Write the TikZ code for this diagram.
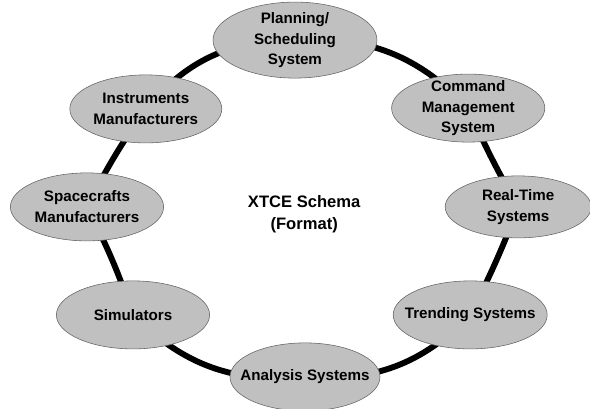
\documentclass[tikz,border=0pt]{standalone}
\usepackage{fontspec}
\setmainfont{Liberation Sans}
\usepackage{tikz}
\usetikzlibrary{shapes,backgrounds}

\definecolor{ovalgray}{RGB}{192,192,192}
\definecolor{ovaledge}{RGB}{100,100,100}

\begin{document}
\begin{tikzpicture}[
    % GLOBAL CFG
    font=\bfseries\fontsize{10.8}{14.9}\selectfont,
    % Styles
    sys/.style={% For the systems round the ring
        ellipse,
        draw=ovaledge,
        fill=ovalgray,
        thin,
        align=center,
        minimum width=3.8cm,
        minimum height=1.7cm,
        inner xsep=-10pt,
        inner ysep=-5pt,
        },
    ring/.style={% For the thick links
        line width=4.2pt,
        },
    ]

    % Fix the page
    \useasboundingbox (-7.375,-5.1125) rectangle (7.375,5.1125);

    % Draw the systems, clockwise from the top
    \node [sys, minimum width=4.1cm, minimum height=1.9cm] (plan) at (0,4.11) {Planning/\\Scheduling\\System};
    \node [sys, minimum width=3.83cm] (cmd) at (4.33,2.41) {Command\\Management\\System};
    \node [sys, minimum width=3.65cm, minimum height=1.55cm] (rtime) at (5.58,-0.06) {Real-Time\\Systems};
    \node [sys, minimum width=3.85cm] (trend) at (4.38,-2.76) {Trending Systems};
    \node [sys, minimum width=3.75cm] (analys) at (0.25,-4.31) {Analysis Systems};
    \node [sys, minimum width=3.83cm] (simul) at (-4.05,-2.76) {Simulators};
    \node [sys, minimum width=3.83cm] (craft) at (-5.2,-0.06) {Spacecrafts\\Manufacturers};
    \node [sys] (instr) at (-3.73,2.39) {Instruments\\Manufacturers};

    % The schema in the middle
    \node [align=center, font=\bfseries\fontsize{11.8}{15.5}\selectfont] (schema) at (0.23,-0.25) {XTCE Schema\\(Format)};

    % Connect all, behind the ellipses
    \begin{scope}[on background layer]
    \draw [ring] (instr.center) to[bend left=25] (plan.center);
    \draw [ring] (plan.center) to[bend left=25] (cmd.center);
    \draw [ring] (cmd.center) to[bend right=3] (rtime.center);
    \draw [ring] (rtime.center) to[bend left=3] (trend.center);
    \draw [ring] (trend.center) to[bend left=25] (analys.center);
    \draw [ring] (analys.center) to[bend left=25] (simul.center);
    \draw [ring] (simul.center) to[bend right=4] (craft.center);
    \draw [ring] (craft.center) to[bend left=4] (instr.center);
    \end{scope}

\end{tikzpicture}
\end{document}
